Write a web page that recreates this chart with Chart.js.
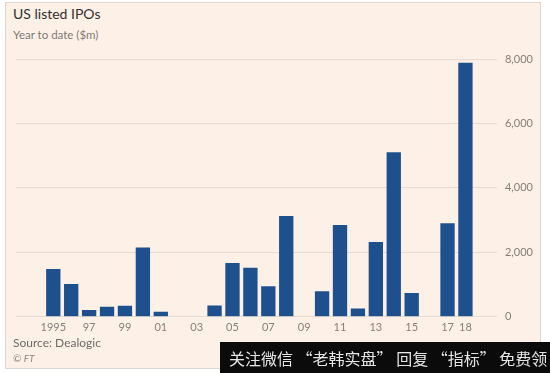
<!DOCTYPE html>
<html>
<head>
<meta charset="utf-8">
<script src="https://cdn.jsdelivr.net/npm/chart.js@4"></script>
<style>
  html, body { margin: 0; padding: 0; background: #fff; }
  body { width: 550px; height: 373px; position: relative; overflow: hidden; font-family: Lato, "Open Sans", sans-serif; }
  #panel { position: absolute; left: 5px; top: 2px; width: 534px; height: 365px; background: #fdf1e7; border: 1px solid #dcd6d0; }
  #chartBox { position: absolute; left: 0; top: 0; width: 550px; height: 373px; }
  .txt { position: absolute; white-space: nowrap; }
  #title { left: 13px; top: 5px; font-size: 14px; color: #33302e; }
  #subtitle { left: 13px; top: 28px; font-size: 11.5px; color: #7f7a76; }
  #source { left: 13px; top: 335px; font-size: 12px; color: #6f6a66; }
  #copy { left: 13px; top: 352px; font-size: 10px; color: #8a8580; font-style: italic; }
  #mark { position: absolute; left: 220px; top: 342px; width: 330px; height: 31px; background: #0b0b0b; }
  #markText { left: 229px; top: 346px; font-size: 16px; color: #e6e6e6; font-family: "Noto Sans CJK SC", sans-serif; }
</style>
</head>
<body>
<div id="panel"></div>
<div class="txt" id="title">US listed IPOs</div>
<div class="txt" id="subtitle">Year to date ($m)</div>
<div id="chartBox"><canvas id="chart" width="550" height="373"></canvas></div>
<div class="txt" id="source">Source: Dealogic</div>
<div class="txt" id="copy">© FT</div>
<div id="mark"></div>
<div class="txt" id="markText">关注微信 “老韩实盘” 回复 “指标” 免费领</div>
<script>
// data ($m, year to date)
const years = [1995, 1996, 1997, 1998, 1999, 2000, 2001, 2002, 2003, 2004, 2005, 2006,
  2007, 2008, 2009, 2010, 2011, 2012, 2013, 2014, 2015, 2016, 2017, 2018];
const ipoValues = [1480, 1020, 210, 310, 340, 2150, 155, 0, 0, 350, 1670, 1520,
  950, 3130, 0, 790, 2850, 260, 2320, 5110, 740, 0, 2900, 7880];
const xTickYears = [1995, 1997, 1999, 2001, 2003, 2005, 2007, 2009, 2011, 2013, 2015, 2017, 2018];
const xTickLabels = ["1995", "97", "99", "01", "03", "05", "07", "09", "11", "13", "15", "17", "18"];
const yTicks = [0, 2000, 4000, 6000, 8000];

const barColor = "#1f508e";
const gridColor = "#e6dbd1";
const tickColor = "#857f7a";

new Chart(document.getElementById("chart").getContext("2d"), {
  type: "bar",
  data: {
    datasets: [
      {
        label: "US listed IPOs",
        data: years.map((y, i) => ({ x: y, y: ipoValues[i] })),
        backgroundColor: barColor,
        borderWidth: 0,
        barPercentage: 0.8,
        categoryPercentage: 1,
      },
    ],
  },
  options: {
    responsive: false,
    animation: false,
    layout: { padding: { left: 16, top: 59, right: 9, bottom: 35 } },
    plugins: { legend: { display: false }, tooltip: { enabled: false } },
    scales: {
      x: {
        type: "linear",
        offset: false,
        min: 1992.92,
        max: 2019.76,
        grid: { display: false, drawTicks: false },
        border: { display: false },
        afterBuildTicks: (axis) => {
          axis.ticks = xTickYears.map((v) => ({ value: v }));
        },
        ticks: {
          autoSkip: false,
          maxRotation: 0,
          padding: 4,
          color: tickColor,
          font: { family: "Lato", size: 11 },
          callback: (v) => xTickLabels[xTickYears.indexOf(v)],
        },
      },
      y: {
        position: "right",
        min: 0,
        max: 8000,
        afterBuildTicks: (axis) => {
          axis.ticks = yTicks.map((v) => ({ value: v }));
        },
        grid: { color: gridColor, drawTicks: false, lineWidth: 1 },
        border: { display: false },
        ticks: {
          padding: 8,
          color: tickColor,
          font: { family: "Lato", size: 11 },
          callback: (v) => v.toLocaleString("en-US"),
        },
      },
    },
  },
});
</script>
</body>
</html>
